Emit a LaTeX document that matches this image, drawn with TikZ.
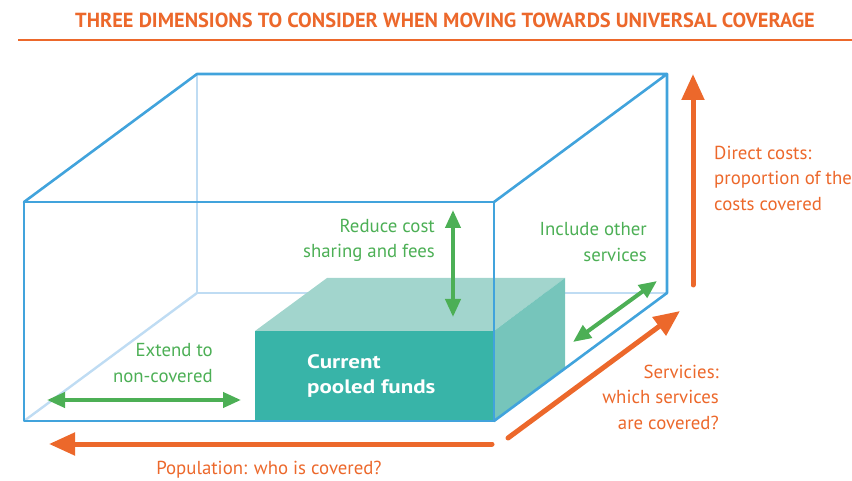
\documentclass[tikz,border=0pt]{standalone}
\usepackage{fontspec}
\setmainfont{PT Sans}
\newfontfamily\widebold[FakeStretch=1.18]{PT Sans Bold}
\usetikzlibrary{arrows.meta}
\definecolor{ora}{HTML}{EC682B}
\definecolor{boxblue}{HTML}{41A3DC}
\definecolor{lightblue}{HTML}{BFDCF3}
\definecolor{grn}{HTML}{4CAF55}
\definecolor{tealfront}{HTML}{38B4A8}
\definecolor{tealtop}{HTML}{A2D5CD}
\definecolor{tealside}{HTML}{76C5BB}
\begin{document}
\begin{tikzpicture}[x=1pt,y=-1pt,
  edge/.style={draw=boxblue,line width=2.6pt,line join=round,line cap=round},
  hiddenedge/.style={draw=lightblue,line width=2.4pt},
  garrow/.style={draw=grn,line width=4pt,{Triangle[length=18pt,width=15pt]}-{Triangle[length=18pt,width=15pt]}},
  oarrow/.style={draw=ora,line width=5pt,line cap=round,-{Triangle[length=26pt,width=22pt]}},
  lbl/.style={font=\fontsize{18.8}{25.5}\selectfont,inner sep=0pt},
  glbl/.style={lbl,text=grn},
  olbl/.style={lbl,text=ora}]
\useasboundingbox (0,0) rectangle (852,481);
% title
\node[text=ora,font=\bfseries\fontsize{20.4}{22}\selectfont,inner sep=0pt] (title) at (445,20) {THREE DIMENSIONS TO CONSIDER WHEN MOVING TOWARDS UNIVERSAL COVERAGE};
\draw[ora,line width=2pt] (18,40) -- (852,40);
% box corners
\coordinate (F1) at (24,202); \coordinate (F2) at (494,202);
\coordinate (F3) at (494,421); \coordinate (F4) at (24,421);
\coordinate (B1) at (197,74); \coordinate (B2) at (667,74);
\coordinate (B3) at (667,293); \coordinate (B4) at (197,293);
% hidden edges
\draw[hiddenedge] (B1) -- (B4) -- (B3);
\draw[hiddenedge] (B4) -- (F4);
% block
\fill[tealtop] (255,331) -- (327,278) -- (565,278) -- (494,331) -- cycle;
\fill[tealside] (494,331) -- (565,278) -- (565,368) -- (494,421) -- cycle;
\fill[tealfront] (255,331) rectangle (494,421);
% visible edges
\draw[edge] (F1) -- (F2) -- (F3) -- (F4) -- cycle;
\draw[edge] (F1) -- (B1) -- (B2) -- (F2);
\draw[edge] (B2) -- (B3) -- (F3);
% green arrows
\coordinate (g1a) at (47,400); \coordinate (g1b) at (241,400);
\coordinate (g2a) at (453,210); \coordinate (g2b) at (453,317);
\coordinate (g3a) at (573,342); \coordinate (g3b) at (657,281);
\draw[garrow] (g1a) -- (g1b);
\draw[garrow] (g2a) -- (g2b);
\draw[garrow] (g3a) -- (g3b);
% orange arrows
\coordinate (o1a) at (492,444); \coordinate (o1b) at (49,444);
\coordinate (o2a) at (508,438); \coordinate (o2b) at (680,311);
\coordinate (o3a) at (693,285); \coordinate (o3b) at (693,74);
\draw[oarrow] (o1a) -- (o1b);
\draw[oarrow] (o2a) -- (o2b);
\draw[oarrow] (o3a) -- (o3b);
% labels
\node[glbl,anchor=east,align=right] (extend) at (213,363) {Extend to\\non-covered};
\node[glbl,anchor=east,align=right] (reduce) at (435,240.5) {Reduce cost\\sharing and fees};
\node[glbl,anchor=east,align=right] (include) at (647,242) {Include other\\services};
\node[lbl,text=white,font=\widebold\fontsize{19.5}{25}\selectfont,anchor=west,align=left] (pooled) at (307,375.5) {Current\\pooled funds};
\node[olbl,anchor=west,align=left] (direct) at (714,178) {Direct costs:\\proportion of the\\costs covered};
\node[olbl,anchor=east,align=right] (serv) at (719,397) {Servicies:\\which services\\are covered?};
\node[olbl] (pop) at (269,470) {Population: who is covered?};
\end{tikzpicture}
\end{document}
